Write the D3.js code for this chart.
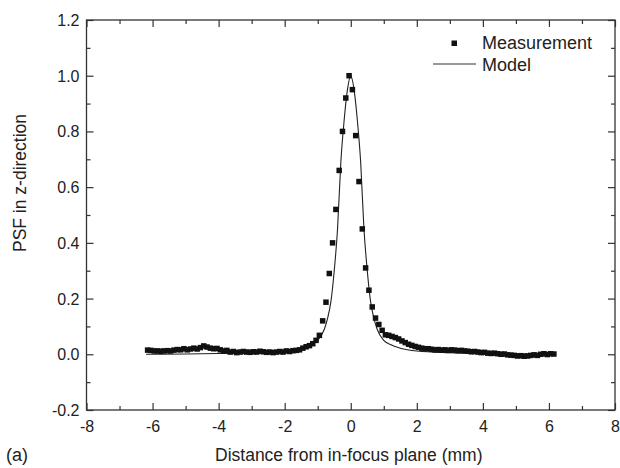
<!DOCTYPE html>
<html>
<head>
<meta charset="utf-8">
<script src="https://cdn.jsdelivr.net/npm/d3@7"></script>
<style>
  body { margin: 0; background: #fff; }
  svg { font-family: "Liberation Sans", Arial, sans-serif; }
  .axis path { display: none; }
  .axis line { stroke: #333; stroke-width: 1.2; }
  .axis text { font-size: 16px; fill: #222; }
</style>
</head>
<body>
<svg width="620" height="468"></svg>
<script>
'use strict';

// measurement positions (mm) and values
var MEAS_X = [-6.15, -6.05, -5.95, -5.85, -5.75, -5.65, -5.55, -5.45, -5.35, -5.25,
  -5.15, -5.05, -4.95, -4.85, -4.75, -4.65, -4.55, -4.45, -4.35, -4.25,
  -4.15, -4.05, -3.95, -3.85, -3.75, -3.65, -3.55, -3.45, -3.35, -3.25,
  -3.15, -3.05, -2.95, -2.85, -2.75, -2.65, -2.55, -2.45, -2.35, -2.25,
  -2.15, -2.05, -1.95, -1.85, -1.75, -1.65, -1.55, -1.45, -1.35, -1.25,
  -1.15, -1.05, -0.95, -0.85, -0.75, -0.65, -0.55, -0.45, -0.35, -0.25,
  -0.15, -0.05, 0.05, 0.15, 0.25, 0.35, 0.45, 0.55, 0.65, 0.75,
  0.85, 0.95, 1.05, 1.15, 1.25, 1.35, 1.45, 1.55, 1.65, 1.75,
  1.85, 1.95, 2.05, 2.15, 2.25, 2.35, 2.45, 2.55, 2.65, 2.75,
  2.85, 2.95, 3.05, 3.15, 3.25, 3.35, 3.45, 3.55, 3.65, 3.75,
  3.85, 3.95, 4.05, 4.15, 4.25, 4.35, 4.45, 4.55, 4.65, 4.75,
  4.85, 4.95, 5.05, 5.15, 5.25, 5.35, 5.45, 5.55, 5.65, 5.75,
  5.85, 5.95, 6.05, 6.15];
var MEAS_Y = [0.015, 0.014, 0.012, 0.012, 0.011, 0.012, 0.013, 0.012, 0.015, 0.017,
  0.016, 0.020, 0.016, 0.019, 0.022, 0.019, 0.024, 0.030, 0.026, 0.022,
  0.020, 0.021, 0.016, 0.012, 0.014, 0.008, 0.010, 0.006, 0.008, 0.010,
  0.008, 0.007, 0.009, 0.008, 0.011, 0.009, 0.007, 0.008, 0.006, 0.008,
  0.010, 0.008, 0.012, 0.010, 0.013, 0.014, 0.016, 0.022, 0.027, 0.031,
  0.038, 0.050, 0.068, 0.120, 0.187, 0.290, 0.400, 0.520, 0.660, 0.800,
  0.920, 1.000, 0.950, 0.785, 0.620, 0.450, 0.310, 0.230, 0.170, 0.130,
  0.107, 0.086, 0.070, 0.068, 0.064, 0.060, 0.055, 0.048, 0.042, 0.036,
  0.032, 0.028, 0.025, 0.022, 0.020, 0.020, 0.018, 0.016, 0.017, 0.015,
  0.016, 0.014, 0.016, 0.015, 0.013, 0.014, 0.012, 0.011, 0.009, 0.010,
  0.008, 0.006, 0.007, 0.004, 0.003, 0.004, 0.002, 0.000, 0.001, -0.002,
  -0.003, -0.004, -0.006, -0.005, -0.007, -0.006, -0.004, -0.002, -0.004, 0.000,
  0.002, -0.001, 0.002, 0.001];

// model curve
var MODEL_X = [-6.2, -5, -4, -3, -2, -1.5, -1.2, -1.0, -0.8, -0.7, -0.6, -0.5, -0.4, -0.3, -0.2, -0.1, 0,
  0.1, 0.2, 0.3, 0.4, 0.5, 0.6, 0.7, 0.8, 1.0, 1.2, 1.5, 2, 3, 4, 5, 6.2];
var MODEL_Y = [0.0, 0.001, 0.003, 0.006, 0.012, 0.022, 0.035, 0.05, 0.09, 0.13, 0.19, 0.30, 0.45, 0.69, 0.84, 0.95, 1.0,
  0.95, 0.84, 0.69, 0.45, 0.30, 0.19, 0.13, 0.09, 0.05, 0.035, 0.022, 0.012, 0.006, 0.003, 0.001, 0.0];

var X_TICKS = [-8, -6, -4, -2, 0, 2, 4, 6, 8];
var Y_TICKS = [-0.2, 0.0, 0.2, 0.4, 0.6, 0.8, 1.0, 1.2];
var X_MINOR = [-7, -5, -3, -1, 1, 3, 5, 7];
var Y_MINOR = [-0.1, 0.1, 0.3, 0.5, 0.7, 0.9, 1.1];

var svg = d3.select('svg');
var margin = { top: 20, right: 5, bottom: 58, left: 86.5 };
var width = 620, height = 468;
var innerWidth = width - margin.left - margin.right;
var innerHeight = height - margin.top - margin.bottom;

var xScale = d3.scaleLinear().domain([-8, 8]).range([0, innerWidth]);
var yScale = d3.scaleLinear().domain([-0.2, 1.2]).range([innerHeight, 0]);

var inner = svg.append('g').attr('transform', 'translate(' + margin.left + ',' + margin.top + ')');

// plain hyphen for negatives, like the original
function fmtX(d) { return String(d); }
function fmtY(d) { return d.toFixed(1); }

// ticks inward on all four sides; only bottom and left keep their labels
function addAxis(axis, values, size, fmt, transform) {
  var g = inner.append('g').attr('class', 'axis').attr('transform', transform || null)
    .call(axis.tickValues(values).tickSizeInner(size).tickSizeOuter(0).tickFormat(fmt || null));
  if (!fmt) g.selectAll('text').remove();
  return g;
}

var bottom = 'translate(0,' + innerHeight + ')';
var right = 'translate(' + innerWidth + ',0)';

var xa = addAxis(d3.axisBottom(xScale), X_TICKS, -7, fmtX, bottom);
xa.selectAll('text').attr('dy', null).attr('y', 22);
addAxis(d3.axisBottom(xScale), X_MINOR, -4, null, bottom);
addAxis(d3.axisTop(xScale), X_TICKS, -7, null);
addAxis(d3.axisTop(xScale), X_MINOR, -4, null);

var ya = addAxis(d3.axisLeft(yScale), Y_TICKS, -7, fmtY);
ya.selectAll('text').attr('dy', null).attr('x', -7).attr('y', 5.5);
addAxis(d3.axisLeft(yScale), Y_MINOR, -4, null);
addAxis(d3.axisRight(yScale), Y_TICKS, -7, null, right);
addAxis(d3.axisRight(yScale), Y_MINOR, -4, null, right);

inner.append('rect')
  .attr('width', innerWidth).attr('height', innerHeight)
  .attr('fill', 'none').attr('stroke', '#333').attr('stroke-width', 1.3);

// model line
var line = d3.line()
  .x(function (d, i) { return xScale(MODEL_X[i]); })
  .y(function (d) { return yScale(d); })
  .curve(d3.curveMonotoneX);

inner.append('path')
  .attr('d', line(MODEL_Y))
  .attr('fill', 'none').attr('stroke', '#222').attr('stroke-width', 1.1);

// measurement squares
var sq = 5.5;
inner.selectAll('rect.meas').data(MEAS_Y).enter().append('rect')
  .attr('class', 'meas')
  .attr('x', function (d, i) { return xScale(MEAS_X[i]) - sq / 2; })
  .attr('y', function (d) { return yScale(d) - sq / 2; })
  .attr('width', sq).attr('height', sq)
  .attr('fill', '#111');

// legend
var legend = svg.append('g');
legend.append('rect').attr('x', 451.5).attr('y', 40.5).attr('width', 5.5).attr('height', 5.5).attr('fill', '#111');
legend.append('text').attr('x', 482).attr('y', 48.5).attr('font-size', 18).attr('fill', '#222').text('Measurement');
legend.append('line').attr('x1', 433).attr('x2', 476).attr('y1', 64).attr('y2', 64)
  .attr('stroke', '#333').attr('stroke-width', 1.1);
legend.append('text').attr('x', 482).attr('y', 70.5).attr('font-size', 18).attr('fill', '#222').text('Model');

// titles
svg.append('text')
  .attr('x', margin.left + innerWidth / 2 - 2).attr('y', 461)
  .attr('text-anchor', 'middle').attr('font-size', 17.5).attr('fill', '#222')
  .text('Distance from in-focus plane (mm)');

svg.append('text')
  .attr('transform', 'translate(26,183) rotate(-90)')
  .attr('text-anchor', 'middle').attr('font-size', 17.5).attr('fill', '#222')
  .text('PSF in z-direction');

svg.append('text')
  .attr('x', 6).attr('y', 461)
  .attr('font-size', 18).attr('fill', '#222')
  .text('(a)');
</script>
</body>
</html>
